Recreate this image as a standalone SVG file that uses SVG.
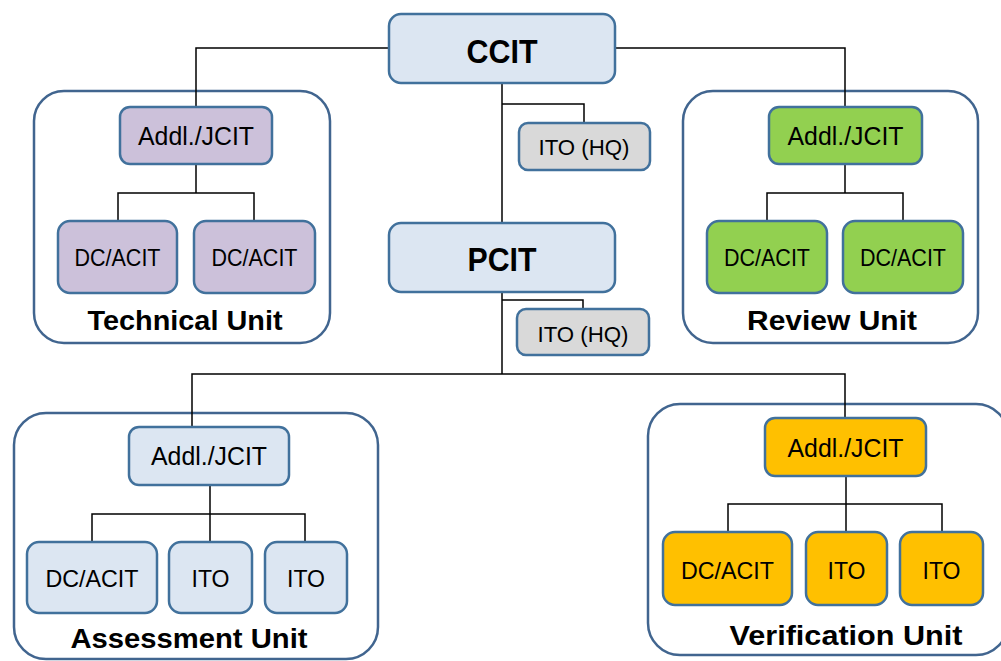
<svg xmlns="http://www.w3.org/2000/svg" width="1001" height="661" viewBox="0 0 1001 661">
<style>
.cont{fill:#ffffff;stroke:#41658f;stroke-width:2.5}
.box{stroke:#41719c;stroke-width:2.5}
.blue{fill:#dce6f2}.gray{fill:#d9d9d9}.lav{fill:#ccc1da}.green{fill:#92d050}.orange{fill:#ffc000}
.t{font-family:"Liberation Sans",Arial,sans-serif;fill:#000;text-anchor:middle}
.big{font-size:34px;font-weight:bold}
.lbl{font-size:27px;font-weight:bold}
.m{font-size:25px}.s{font-size:24px}.hq{font-size:22px}.ito{font-size:24px}
.ln{fill:none;stroke:#000;stroke-width:1.5}
</style>
<rect width="1001" height="661" fill="#ffffff"/>
<g id="technical-unit"><rect class="cont" x="34" y="91" width="296" height="252" rx="30"/><text class="t lbl" x="185" y="330" textLength="195" lengthAdjust="spacingAndGlyphs">Technical Unit</text></g>
<g id="review-unit"><rect class="cont" x="683" y="91" width="295" height="252" rx="30"/><text class="t lbl" x="832" y="330" textLength="170" lengthAdjust="spacingAndGlyphs">Review Unit</text></g>
<g id="assessment-unit"><rect class="cont" x="14" y="413" width="364" height="246" rx="32"/><text class="t lbl" x="189" y="648" textLength="237" lengthAdjust="spacingAndGlyphs">Assessment Unit</text></g>
<g id="verification-unit"><rect class="cont" x="648" y="404" width="360" height="251" rx="32"/><text class="t lbl" x="846" y="645" textLength="233" lengthAdjust="spacingAndGlyphs">Verification Unit</text></g>
<g id="connectors">
<polyline class="ln" points="389,48 196,48 196,107"/>
<polyline class="ln" points="615,48 845,48 845,107"/>
<line class="ln" x1="502" y1="83" x2="502" y2="223"/>
<polyline class="ln" points="502,104 584,104 584,123"/>
<line class="ln" x1="502" y1="292" x2="502" y2="374"/>
<polyline class="ln" points="502,300 583,300 583,309"/>
<polyline class="ln" points="192,427 192,374 845,374 845,418"/>
<line class="ln" x1="196" y1="164" x2="196" y2="193"/>
<polyline class="ln" points="118,221 118,193 254,193 254,221"/>
<line class="ln" x1="845" y1="164" x2="845" y2="193"/>
<polyline class="ln" points="767,221 767,193 903,193 903,221"/>
<line class="ln" x1="210" y1="485" x2="210" y2="542"/>
<polyline class="ln" points="92,542 92,514 305,514 305,542"/>
<line class="ln" x1="846" y1="476" x2="846" y2="532"/>
<polyline class="ln" points="728,532 728,504 942,504 942,532"/>
</g>
<g id="ccit"><rect class="box blue" x="389" y="14" width="226" height="69" rx="12"/><text class="t big" x="502" y="63" textLength="71" lengthAdjust="spacingAndGlyphs">CCIT</text></g>
<g id="ito-hq-1"><rect class="box gray" x="519" y="123" width="131" height="47" rx="9"/><text class="t hq" x="584" y="155" textLength="91" lengthAdjust="spacingAndGlyphs">ITO (HQ)</text></g>
<g id="pcit"><rect class="box blue" x="389" y="223" width="226" height="69" rx="12"/><text class="t big" x="502" y="271" textLength="69" lengthAdjust="spacingAndGlyphs">PCIT</text></g>
<g id="ito-hq-2"><rect class="box gray" x="517" y="309" width="132" height="46" rx="9"/><text class="t hq" x="583" y="342" textLength="91" lengthAdjust="spacingAndGlyphs">ITO (HQ)</text></g>
<g id="tech-addl"><rect class="box lav" x="120" y="107" width="152" height="57" rx="10"/><text class="t m" x="196" y="145" textLength="116" lengthAdjust="spacingAndGlyphs">Addl./JCIT</text></g>
<g id="tech-dc1"><rect class="box lav" x="58" y="221" width="119" height="72" rx="12"/><text class="t s" x="117.5" y="266" textLength="86" lengthAdjust="spacingAndGlyphs">DC/ACIT</text></g>
<g id="tech-dc2"><rect class="box lav" x="194" y="221" width="121" height="72" rx="12"/><text class="t s" x="254.5" y="266" textLength="86" lengthAdjust="spacingAndGlyphs">DC/ACIT</text></g>
<g id="rev-addl"><rect class="box green" x="769" y="107" width="153" height="57" rx="10"/><text class="t m" x="845.5" y="145" textLength="116" lengthAdjust="spacingAndGlyphs">Addl./JCIT</text></g>
<g id="rev-dc1"><rect class="box green" x="707" y="221" width="120" height="72" rx="12"/><text class="t s" x="767" y="266" textLength="86" lengthAdjust="spacingAndGlyphs">DC/ACIT</text></g>
<g id="rev-dc2"><rect class="box green" x="843" y="221" width="120" height="72" rx="12"/><text class="t s" x="903" y="266" textLength="86" lengthAdjust="spacingAndGlyphs">DC/ACIT</text></g>
<g id="asm-addl"><rect class="box blue" x="129" y="427" width="160" height="58" rx="10"/><text class="t m" x="209" y="465" textLength="116" lengthAdjust="spacingAndGlyphs">Addl./JCIT</text></g>
<g id="asm-dc"><rect class="box blue" x="27" y="542" width="130" height="71" rx="12"/><text class="t s" x="92" y="587" textLength="93" lengthAdjust="spacingAndGlyphs">DC/ACIT</text></g>
<g id="asm-ito1"><rect class="box blue" x="169" y="542" width="83" height="71" rx="12"/><text class="t ito" x="210.5" y="587" textLength="38" lengthAdjust="spacingAndGlyphs">ITO</text></g>
<g id="asm-ito2"><rect class="box blue" x="265" y="542" width="82" height="71" rx="12"/><text class="t ito" x="306" y="587" textLength="38" lengthAdjust="spacingAndGlyphs">ITO</text></g>
<g id="ver-addl"><rect class="box orange" x="765" y="418" width="161" height="58" rx="10"/><text class="t m" x="845.5" y="457" textLength="116" lengthAdjust="spacingAndGlyphs">Addl./JCIT</text></g>
<g id="ver-dc"><rect class="box orange" x="663" y="532" width="129" height="73" rx="12"/><text class="t s" x="727.5" y="579" textLength="93" lengthAdjust="spacingAndGlyphs">DC/ACIT</text></g>
<g id="ver-ito1"><rect class="box orange" x="806" y="532" width="81" height="73" rx="12"/><text class="t ito" x="846.5" y="579" textLength="38" lengthAdjust="spacingAndGlyphs">ITO</text></g>
<g id="ver-ito2"><rect class="box orange" x="900" y="532" width="83" height="73" rx="12"/><text class="t ito" x="941.5" y="579" textLength="38" lengthAdjust="spacingAndGlyphs">ITO</text></g>
</svg>
